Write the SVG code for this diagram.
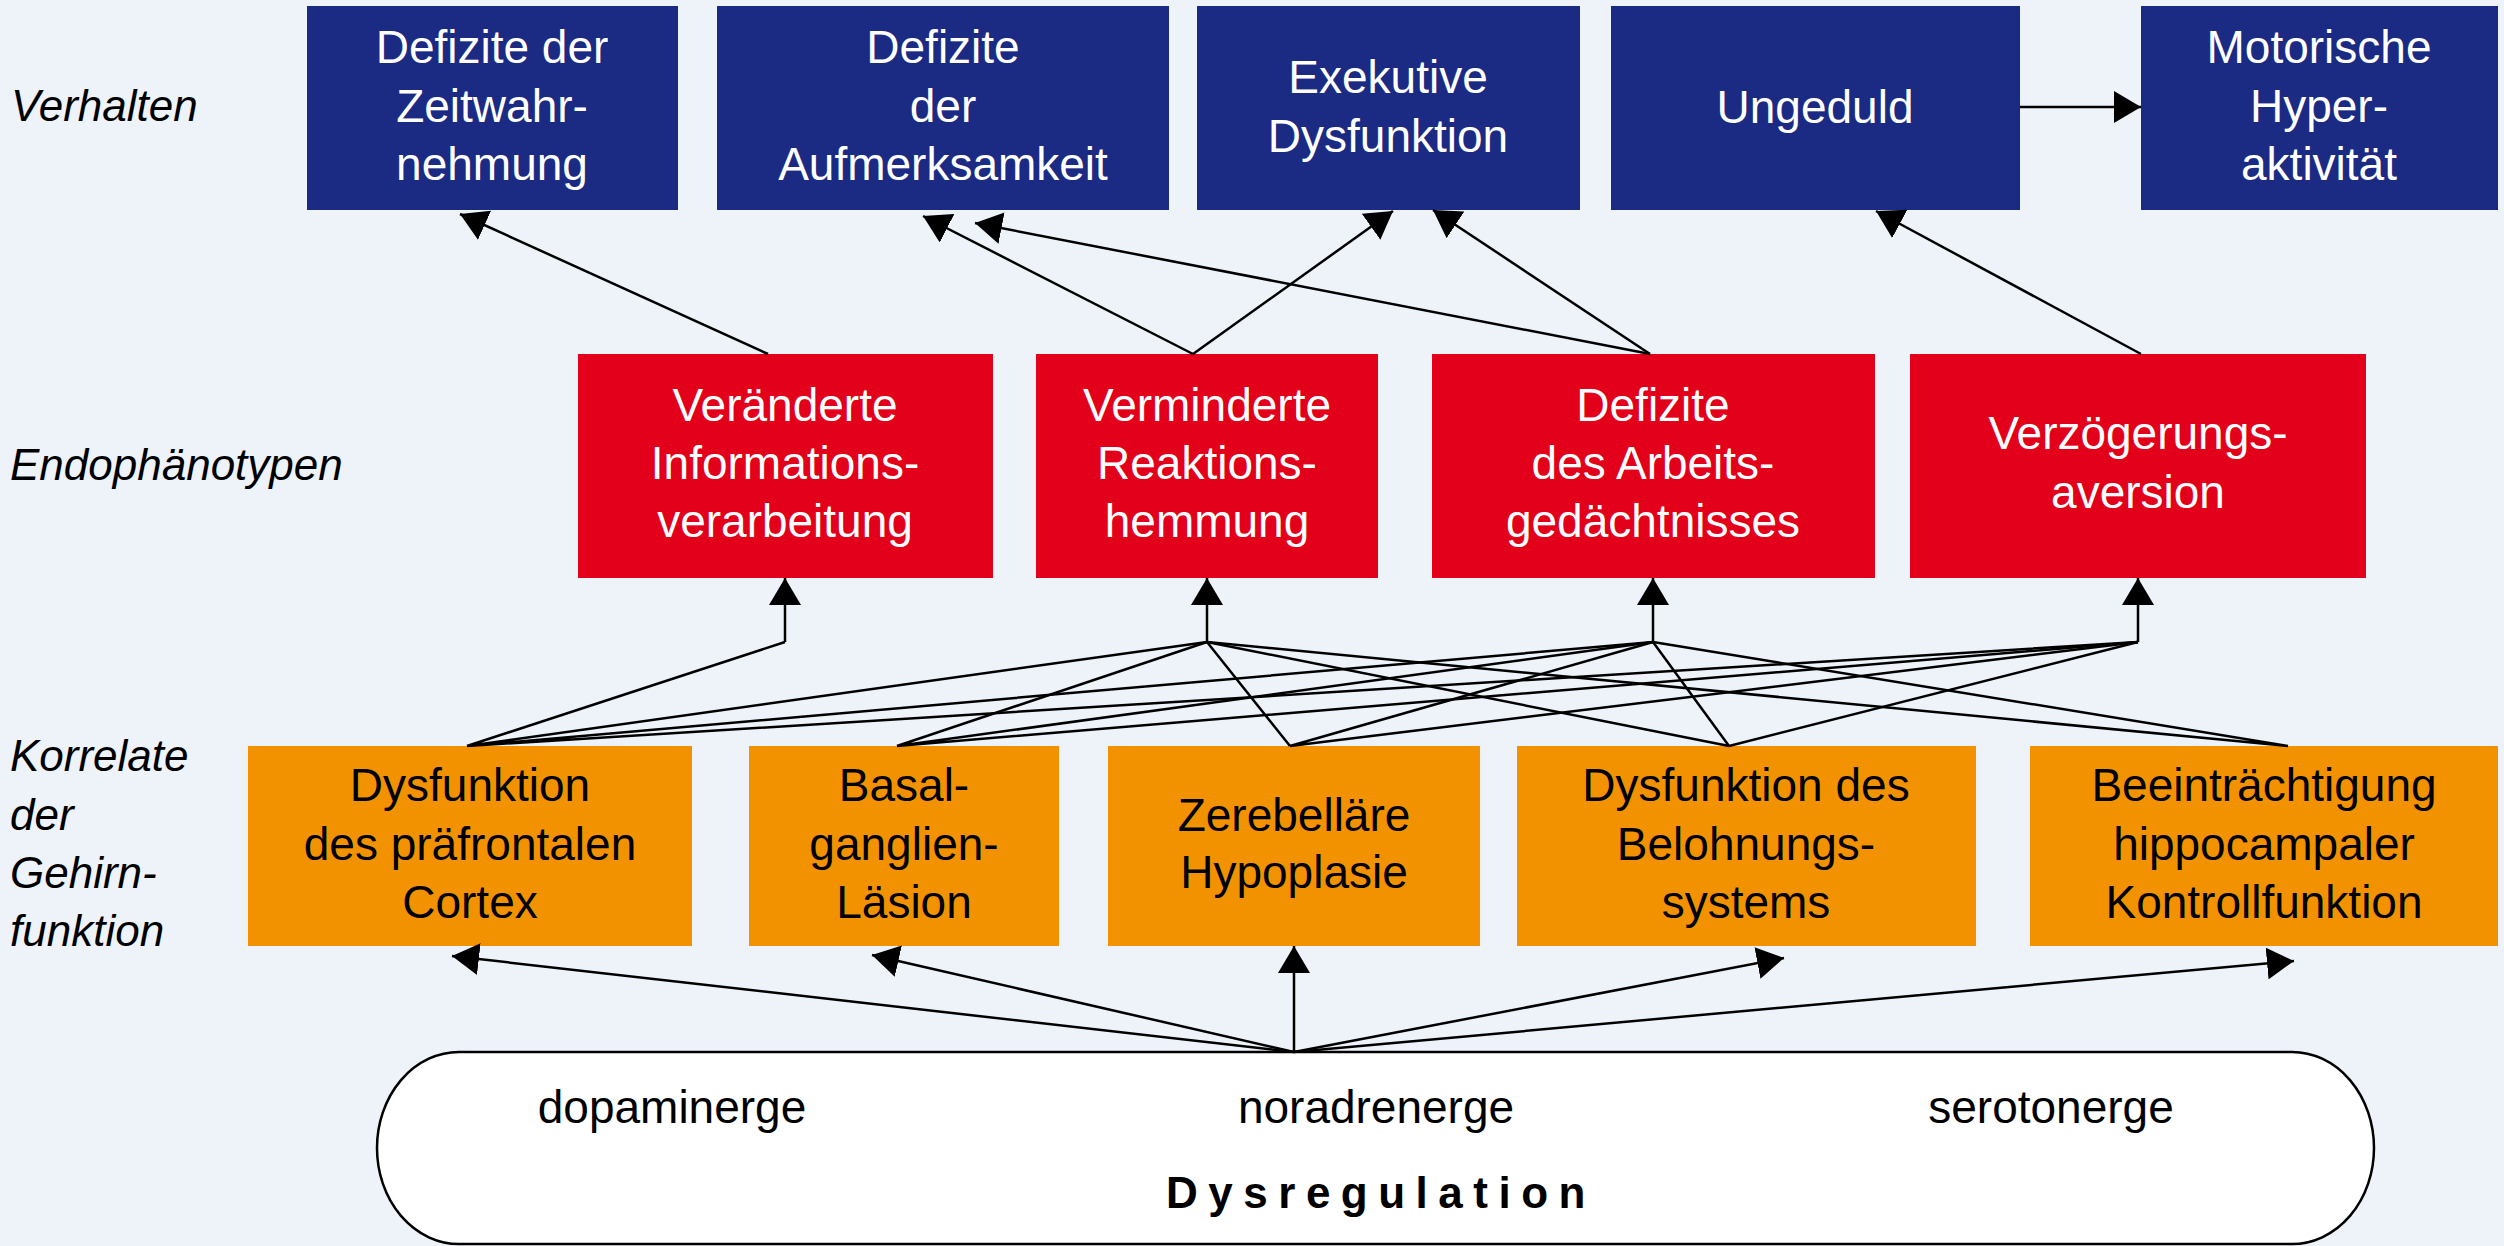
<svg xmlns="http://www.w3.org/2000/svg" width="2504" height="1246" viewBox="0 0 2504 1246">
  <style>
    .bg { fill: #eef3fa; }
    .blue { fill: #1b2a83; }
    .red { fill: #e2001a; }
    .orange { fill: #f39200; }
    .t { font-family: "Liberation Sans", Arial, sans-serif; font-size: 46px; text-anchor: middle; }
    .w { fill: #ffffff; }
    .k { fill: #000000; }
    .lab { font-family: "Liberation Sans", Arial, sans-serif; font-size: 44px; font-style: italic; fill: #000000; }
    .ln { stroke: #000000; stroke-width: 2.5; fill: none; }
    .arr { marker-end: url(#head); }
  </style>
  <defs>
    <marker id="head" markerUnits="userSpaceOnUse" markerWidth="28" markerHeight="32" refX="27" refY="16" orient="auto">
      <path d="M0,0 L27,16 L0,32 Z" fill="#000000"/>
    </marker>
  </defs>

  <rect class="bg" x="0" y="0" width="2504" height="1246"/>

  <!-- level labels -->
  <g id="labels">
    <text class="lab" x="11" y="121">Verhalten</text>
    <text class="lab" x="10" y="480">Endophänotypen</text>
    <text class="lab" x="10" y="771">Korrelate</text>
    <text class="lab" x="10" y="830">der</text>
    <text class="lab" x="10" y="888">Gehirn-</text>
    <text class="lab" x="10" y="946">funktion</text>
  </g>

  <!-- behaviour level -->
  <g id="b-zeit">
    <rect class="blue" x="307" y="6" width="371" height="204"/>
    <text class="t w" x="492" y="63">Defizite der</text>
    <text class="t w" x="492" y="122">Zeitwahr-</text>
    <text class="t w" x="492" y="180">nehmung</text>
  </g>
  <g id="b-aufmerksamkeit">
    <rect class="blue" x="717" y="6" width="452" height="204"/>
    <text class="t w" x="943" y="63">Defizite</text>
    <text class="t w" x="943" y="122">der</text>
    <text class="t w" x="943" y="180">Aufmerksamkeit</text>
  </g>
  <g id="b-exekutiv">
    <rect class="blue" x="1197" y="6" width="383" height="204"/>
    <text class="t w" x="1388" y="93">Exekutive</text>
    <text class="t w" x="1388" y="152">Dysfunktion</text>
  </g>
  <g id="b-ungeduld">
    <rect class="blue" x="1611" y="6" width="409" height="204"/>
    <text class="t w" x="1815" y="123">Ungeduld</text>
  </g>
  <g id="b-hyper">
    <rect class="blue" x="2141" y="6" width="357" height="204"/>
    <text class="t w" x="2319" y="63">Motorische</text>
    <text class="t w" x="2319" y="122">Hyper-</text>
    <text class="t w" x="2319" y="180">aktivität</text>
  </g>

  <!-- endophenotypes -->
  <g id="e-info">
    <rect class="red" x="578" y="354" width="415" height="224"/>
    <text class="t w" x="785" y="421">Veränderte</text>
    <text class="t w" x="785" y="479">Informations-</text>
    <text class="t w" x="785" y="537">verarbeitung</text>
  </g>
  <g id="e-hemmung">
    <rect class="red" x="1036" y="354" width="342" height="224"/>
    <text class="t w" x="1207" y="421">Verminderte</text>
    <text class="t w" x="1207" y="479">Reaktions-</text>
    <text class="t w" x="1207" y="537">hemmung</text>
  </g>
  <g id="e-arbeit">
    <rect class="red" x="1432" y="354" width="443" height="224"/>
    <text class="t w" x="1653" y="421">Defizite</text>
    <text class="t w" x="1653" y="479">des Arbeits-</text>
    <text class="t w" x="1653" y="537">gedächtnisses</text>
  </g>
  <g id="e-aversion">
    <rect class="red" x="1910" y="354" width="456" height="224"/>
    <text class="t w" x="2138" y="449">Verzögerungs-</text>
    <text class="t w" x="2138" y="508">aversion</text>
  </g>

  <!-- brain-function correlates -->
  <g id="k-cortex">
    <rect class="orange" x="248" y="746" width="444" height="200"/>
    <text class="t k" x="470" y="801">Dysfunktion</text>
    <text class="t k" x="470" y="860">des präfrontalen</text>
    <text class="t k" x="470" y="918">Cortex</text>
  </g>
  <g id="k-basal">
    <rect class="orange" x="749" y="746" width="310" height="200"/>
    <text class="t k" x="904" y="801">Basal-</text>
    <text class="t k" x="904" y="860">ganglien-</text>
    <text class="t k" x="904" y="918">Läsion</text>
  </g>
  <g id="k-zereb">
    <rect class="orange" x="1108" y="746" width="372" height="200"/>
    <text class="t k" x="1294" y="831">Zerebelläre</text>
    <text class="t k" x="1294" y="888">Hypoplasie</text>
  </g>
  <g id="k-belohnung">
    <rect class="orange" x="1517" y="746" width="459" height="200"/>
    <text class="t k" x="1746" y="801">Dysfunktion des</text>
    <text class="t k" x="1746" y="860">Belohnungs-</text>
    <text class="t k" x="1746" y="918">systems</text>
  </g>
  <g id="k-hippo">
    <rect class="orange" x="2030" y="746" width="468" height="200"/>
    <text class="t k" x="2264" y="801">Beeinträchtigung</text>
    <text class="t k" x="2264" y="860">hippocampaler</text>
    <text class="t k" x="2264" y="918">Kontrollfunktion</text>
  </g>

  <!-- transmitter dysregulation -->
  <g id="dysregulation">
    <rect x="377" y="1052" width="1997" height="192" rx="82" ry="96" fill="#ffffff" stroke="#000000" stroke-width="2.5"/>
    <text class="t k" x="672" y="1123">dopaminerge</text>
    <text class="t k" x="1376" y="1123">noradrenerge</text>
    <text class="t k" x="2051" y="1123">serotonerge</text>
    <text class="t k" x="1381" y="1208" style="font-weight:bold; font-size:44px; letter-spacing:10.5px">Dysregulation</text>
  </g>

  <!-- connectors -->
  <g id="connectors">
    <!-- endophenotypes to behaviour -->
    <line class="ln arr" x1="768" y1="354" x2="460" y2="214"/>
    <line class="ln arr" x1="1193" y1="354" x2="923" y2="216"/>
    <line class="ln arr" x1="1193" y1="354" x2="1393" y2="211"/>
    <line class="ln arr" x1="1650" y1="354" x2="975" y2="223"/>
    <line class="ln arr" x1="1650" y1="354" x2="1433" y2="210"/>
    <line class="ln arr" x1="2141" y1="354" x2="1876" y2="211"/>
    <line class="ln arr" x1="2020" y1="107" x2="2141" y2="107"/>

    <!-- hub stems into endophenotypes -->
    <line class="ln arr" x1="785" y1="642" x2="785" y2="578"/>
    <line class="ln arr" x1="1207" y1="642" x2="1207" y2="578"/>
    <line class="ln arr" x1="1653" y1="642" x2="1653" y2="578"/>
    <line class="ln arr" x1="2138" y1="642" x2="2138" y2="578"/>

    <!-- correlates to hubs -->
    <path class="ln" d="M467,746 L785,642 M467,746 L1207,642 M467,746 L1653,642 M467,746 L2138,642"/>
    <path class="ln" d="M897,746 L1207,642 M897,746 L1653,642 M897,746 L2138,642"/>
    <path class="ln" d="M1290,746 L1207,642 M1290,746 L1653,642 M1290,746 L2138,642"/>
    <path class="ln" d="M1729,746 L1207,642 M1729,746 L1653,642 M1729,746 L2138,642"/>
    <path class="ln" d="M2288,746 L1207,642 M2288,746 L1653,642"/>

    <!-- dysregulation to correlates -->
    <line class="ln arr" x1="1294" y1="1052" x2="452" y2="956"/>
    <line class="ln arr" x1="1294" y1="1052" x2="872" y2="955"/>
    <line class="ln arr" x1="1294" y1="1052" x2="1294" y2="946"/>
    <line class="ln arr" x1="1294" y1="1052" x2="1784" y2="958"/>
    <line class="ln arr" x1="1294" y1="1052" x2="2294" y2="961"/>
  </g>
</svg>
